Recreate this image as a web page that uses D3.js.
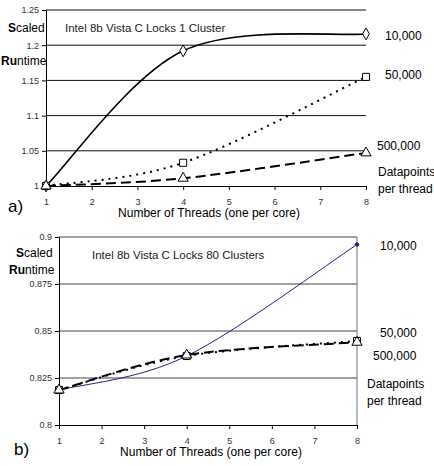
<!DOCTYPE html>
<html>
<head>
<meta charset="utf-8">
<script src="https://cdn.jsdelivr.net/npm/d3@7"></script>
<style>
body{margin:0;background:#fff}
text{font-family:"Liberation Sans",Arial,sans-serif}
</style>
</head>
<body>
<script>
// threads where the runs were measured
const threads = [1, 4, 8]
const xTicks = [1, 2, 3, 4, 5, 6, 7, 8]
const seriesNames = ["10,000", "50,000", "500,000"]

// panel a) 1 cluster
const a10k = [1.0, 1.192, 1.216]
const a50k = [1.0, 1.033, 1.155]
const a500k = [1.0, 1.011, 1.047]
const aTicks = [1, 1.05, 1.1, 1.15, 1.2, 1.25]

// panel b) 80 clusters
const b10k = [0.8186, 0.8367, 0.896]
const b50k = [0.8186, 0.8367, 0.8447]
const b500k = [0.8186, 0.8372, 0.8440]
const bTicks = [0.8, 0.825, 0.85, 0.875, 0.9]

const svg = d3.select("body")
  .append("svg")
  .attr("width", 434)
  .attr("height", 466)

// spreadsheet style smoothing: end tangents point at the neighbour
function smoothCurve(context) {
  let pts = []
  return {
    areaStart() {}, areaEnd() {},
    lineStart() { pts = [] },
    point(x, y) { pts.push([x, y]) },
    lineEnd() {
      const n = pts.length
      context.moveTo(pts[0][0], pts[0][1])
      for (let i = 0; i < n - 1; i++) {
        const p0 = pts[Math.max(i - 1, 0)], p1 = pts[i], p2 = pts[i + 1], p3 = pts[Math.min(i + 2, n - 1)]
        context.bezierCurveTo(
          p1[0] + (p2[0] - p0[0]) / 6, p1[1] + (p2[1] - p0[1]) / 6,
          p2[0] - (p3[0] - p1[0]) / 6, p2[1] - (p3[1] - p1[1]) / 6,
          p2[0], p2[1])
      }
    }
  }
}

function panel(p) {
  const g = svg.append("g")

  const x = d3.scaleLinear().domain([1, 8]).range([p.x0, p.x1])
  const y = d3.scaleLinear().domain(d3.extent(p.yTicks)).range([p.y0, p.y1])

  // grid lines
  g.selectAll(".grid")
    .data(p.yTicks.slice(1))
    .enter()
    .append("line")
    .attr("x1", p.x0).attr("x2", p.x1)
    .attr("y1", d => y(d)).attr("y2", d => y(d))
    .attr("stroke", p.gridColor)
    .attr("stroke-width", 1)

  if (p.box) {
    g.append("line")
      .attr("x1", p.x1).attr("x2", p.x1)
      .attr("y1", p.y0).attr("y2", p.y1)
      .attr("stroke", "#777")
  }

  const yAxis = g.append("g")
    .attr("transform", `translate(${p.x0},0)`)
    .call(d3.axisLeft(y).tickValues(p.yTicks).tickSize(4).tickPadding(3)
      .tickFormat(d => String(+d.toFixed(3))))
  const xAxis = g.append("g")
    .attr("transform", `translate(0,${p.y0})`)
    .call(d3.axisBottom(x).tickValues(xTicks).tickSize(4).tickPadding(9).tickFormat(d3.format("d")))

  ;[yAxis, xAxis].forEach(a => {
    a.select(".domain").attr("stroke", "#000")
    a.selectAll(".tick line").attr("stroke", "#000")
    a.selectAll("text").attr("font-size", 9).attr("fill", "#333")
      .attr("font-family", "Liberation Sans, Arial, sans-serif")
  })

  const line = d3.line()
    .x((d, i) => x(threads[i]))
    .y(d => y(d))
    .curve(smoothCurve)

  const styles = p.styles
  p.series.forEach((s, k) => {
    g.append("path")
      .datum(s)
      .attr("d", line)
      .attr("fill", "none")
      .attr("stroke", styles[k].color)
      .attr("stroke-width", styles[k].width)
      .attr("stroke-dasharray", styles[k].dash)
  })

  // markers
  p.series.forEach((s, k) => {
    const st = styles[k]
    g.selectAll(".m" + k)
      .data(s)
      .enter()
      .append("path")
      .attr("transform", (d, i) => `translate(${x(threads[i])},${y(d)})`)
      .attr("d", d3.symbol().type(st.marker).size(st.size))
      .attr("fill", st.fill)
      .attr("stroke", st.color)
      .attr("stroke-width", 1)
  })

  // texts
  const t = (tx, ty, str, size, opts) => {
    const el = g.append("text").attr("x", tx).attr("y", ty).attr("font-size", size).attr("fill", "#000")
    if (opts && opts.anchor) el.attr("text-anchor", opts.anchor)
    return el.text(str)
  }
  const sc = g.append("text").attr("x", p.labX).attr("y", p.scaledY).attr("font-size", 12)
  sc.append("tspan").attr("font-weight", "bold").text("S")
  sc.append("tspan").text("caled")
  const ru = g.append("text").attr("x", p.labX - 7).attr("y", p.runY).attr("font-size", 12)
  ru.append("tspan").attr("font-weight", "bold").text("Ru")
  ru.append("tspan").text("ntime")

  t(p.titleX, p.titleY, p.title, 11.5).attr("fill", "#222")
  t((p.x0 + p.x1) / 2 + 3, p.y0 + 31, "Number of Threads (one per core)", 12, { anchor: "middle" })
  t(p.tagX, p.tagY, p.tag, 17)

  seriesNames.forEach((n, k) => t(p.nameX[k], p.nameY[k], n, 12))
  t(p.dpX, p.dpY, "Datapoints", 12)
  t(p.dpX, p.dpY + 17, "per thread", 12)
}

panel({
  x0: 46, x1: 366, y0: 186, y1: 10,
  yTicks: aTicks,
  series: [a10k, a50k, a500k],
  styles: [
    { color: "#000", width: 1.6, dash: null, marker: d3.symbolDiamond, size: 40, fill: "#fff" },
    { color: "#000", width: 2, dash: "2,5", marker: d3.symbolSquare, size: 50, fill: "#fff" },
    { color: "#000", width: 2, dash: "10,5", marker: d3.symbolTriangle, size: 45, fill: "#fff" }
  ],
  box: false, gridColor: "#111",
  labX: 8, scaledY: 32, runY: 65,
  title: "Intel 8b Vista C Locks 1 Cluster", titleX: 65, titleY: 32,
  tag: "a)", tagX: 8, tagY: 212,
  nameX: [385, 385, 377], nameY: [40, 79, 150],
  dpX: 378, dpY: 176
})

panel({
  x0: 59, x1: 357, y0: 425, y1: 237,
  yTicks: bTicks,
  series: [b10k, b50k, b500k],
  styles: [
    { color: "#22228a", width: 1, dash: null, marker: d3.symbolCircle, size: 10, fill: "#22228a" },
    { color: "#000", width: 2, dash: "2,5", marker: d3.symbolSquare, size: 50, fill: "#fff" },
    { color: "#000", width: 2, dash: "10,5", marker: d3.symbolTriangle, size: 45, fill: "#fff" }
  ],
  box: true, gridColor: "#444",
  labX: 16, scaledY: 257, runY: 274,
  title: "Intel 8b Vista C Locks 80 Clusters", titleX: 92, titleY: 259,
  tag: "b)", tagX: 14, tagY: 455,
  nameX: [380, 380, 373], nameY: [250, 337, 360],
  dpX: 367, dpY: 388
})
</script>
</body>
</html>
